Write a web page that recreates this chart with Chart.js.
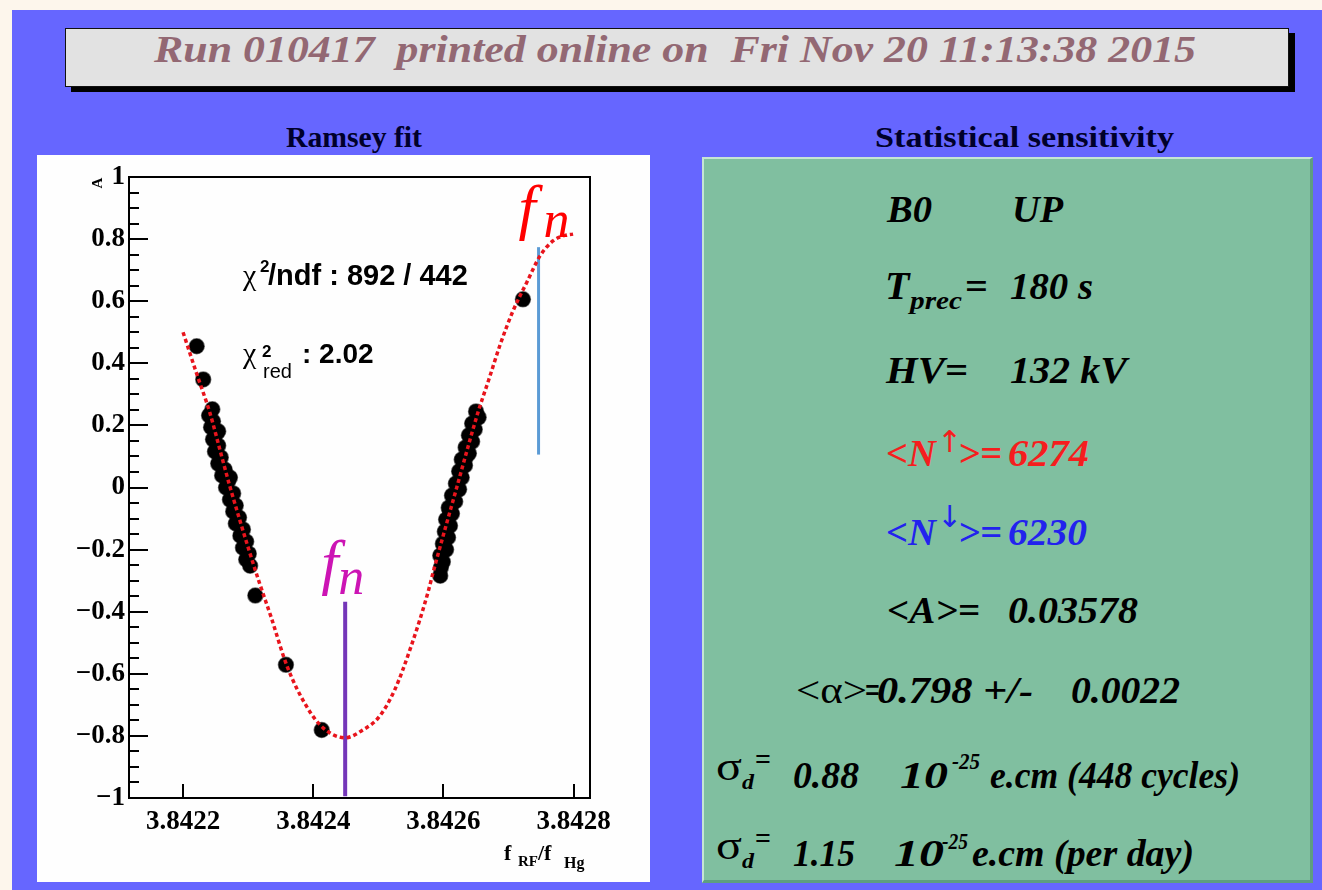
<!DOCTYPE html>
<html>
<head>
<meta charset="utf-8">
<script src="https://cdn.jsdelivr.net/npm/chart.js@4.4.0/dist/chart.umd.min.js"></script>
<style>
  html, body { margin: 0; padding: 0; }
  body { width: 1322px; height: 890px; background: #fdf6ec; position: relative; overflow: hidden; }
  #bg { position: absolute; left: 12px; top: 10px; right: 0; bottom: 0; background: #6666ff; }
  #titlebox { position: absolute; left: 65px; top: 28px; width: 1224px; height: 59px; box-sizing: border-box;
    background: #e2e2e2; border: 1px solid #111; box-shadow: 6px 5px 0 #000; }
  #plotpanel { position: absolute; left: 37px; top: 155px; width: 613px; height: 727px; background: #fefefe; }
  #greenpanel { position: absolute; left: 702px; top: 157px; width: 611px; height: 726px; box-sizing: border-box;
    background: #80bfa0; border-top: 2px solid #c6e4d4; border-left: 2px solid #c6e4d4;
    border-right: 3px solid #5e9e80; border-bottom: 3px solid #5e9e80; }
  .txt { position: absolute; white-space: pre; transform-origin: 0 50%; }
</style>
</head>
<body>
<div id="bg"></div>
<div id="titlebox"></div>
<div id="plotpanel"><canvas id="ramsey" width="613" height="727"></canvas></div>
<div id="greenpanel"></div>

<script>
// axis ticks
const xTickValues = [3.8422, 3.8424, 3.8426, 3.8428];
const xTickLabels = ['3.8422', '3.8424', '3.8426', '3.8428'];
const yTickValues = [-1, -0.8, -0.6, -0.4, -0.2, 0, 0.2, 0.4, 0.6, 0.8, 1];
const yTickLabels = ['\u22121', '\u22120.8', '\u22120.6', '\u22120.4', '\u22120.2', '0', '0.2', '0.4', '0.6', '0.8', '1'];

// fitted Ramsey curve
const fitX = [3.842200, 3.842221, 3.842241, 3.842260, 3.842272, 3.842301, 3.842317, 3.842335, 3.842360, 3.842390,
  3.842415, 3.842449, 3.842476, 3.842501, 3.842525, 3.842550, 3.842576, 3.842584, 3.842619, 3.842653,
  3.842670, 3.842687, 3.842707, 3.842728, 3.842748, 3.842768, 3.842783, 3.842799];
const fitY = [0.500, 0.366, 0.242, 0.095, 0.003, -0.200, -0.305, -0.416, -0.577, -0.706,
  -0.774, -0.806, -0.781, -0.739, -0.652, -0.513, -0.339, -0.274, -0.010, 0.242,
  0.350, 0.460, 0.570, 0.661, 0.745, 0.794, 0.810, 0.816];

// measured cycles, left cluster
const leftX = [3.842245, 3.842240, 3.842246, 3.842243, 3.842251, 3.842246, 3.842254, 3.842249, 3.842258, 3.842254,
  3.842264, 3.842260, 3.842269, 3.842266, 3.842277, 3.842272, 3.842281, 3.842277, 3.842286, 3.842281,
  3.842292, 3.842288, 3.842297, 3.842292, 3.842301, 3.842297, 3.842303, 3.842254, 3.842272];
const leftY = [0.252, 0.232, 0.213, 0.194, 0.174, 0.155, 0.135, 0.116, 0.097, 0.077,
  0.058, 0.039, 0.019, 0.000, -0.019, -0.039, -0.058, -0.077, -0.097, -0.116,
  -0.135, -0.155, -0.174, -0.194, -0.213, -0.232, -0.252, 0.181, 0.032];

// measured cycles, right cluster
const rightX = [3.842650, 3.842654, 3.842644, 3.842648, 3.842639, 3.842644, 3.842634, 3.842639, 3.842628, 3.842633,
  3.842624, 3.842628, 3.842619, 3.842624, 3.842613, 3.842618, 3.842608, 3.842613, 3.842604, 3.842610,
  3.842602, 3.842607, 3.842599, 3.842604, 3.842595, 3.842599, 3.842596, 3.842595, 3.842634, 3.842610];
const rightY = [0.245, 0.226, 0.206, 0.187, 0.168, 0.148, 0.129, 0.110, 0.090, 0.071,
  0.052, 0.032, 0.013, -0.006, -0.026, -0.045, -0.065, -0.084, -0.103, -0.123,
  -0.142, -0.161, -0.181, -0.200, -0.219, -0.239, -0.258, -0.284, 0.097, -0.077];

// isolated cycles
const loneX = [3.842221, 3.842231, 3.842311, 3.842358, 3.842413, 3.842722];
const loneY = [0.455, 0.348, -0.348, -0.571, -0.781, 0.606];

// f_n markers
const fnLowX = 3.842449;
const fnLowY = [-0.994, -0.368];
const fnHighX = 3.842746;
const fnHighY = [0.106, 0.774];

const xy = (xs, ys) => xs.map((v, i) => ({ x: v, y: ys[i] }));
const cycles = [...xy(leftX, leftY), ...xy(rightX, rightY), ...xy(loneX, loneY)];

const decor = {
  id: 'decor',
  afterDraw(chart) {
    const { ctx, chartArea: a, scales: { x, y } } = chart;
    ctx.save();
    ctx.strokeStyle = '#000';
    ctx.lineWidth = 2;
    ctx.strokeRect(a.left, a.top, a.right - a.left, a.bottom - a.top);

    // inward ticks, ROOT style
    ctx.beginPath();
    for (let i = 0; i <= 40; i++) {
      const py = Math.round(y.getPixelForValue(-1 + i * 0.05));
      ctx.moveTo(a.left, py);
      ctx.lineTo(a.left + (i % 4 === 0 ? 19 : 10), py);
    }
    xTickValues.forEach(v => {
      const px = Math.round(x.getPixelForValue(v));
      ctx.moveTo(px, a.bottom);
      ctx.lineTo(px, a.bottom - 14);
    });
    ctx.stroke();

    ctx.fillStyle = '#000';
    ctx.textBaseline = 'alphabetic';
    ctx.textAlign = 'left';

    // fit statistics
    const L = a.left + 114, B1 = a.top + 108, B2 = a.top + 186;
    ctx.font = '30px "Liberation Serif"';
    ctx.fillText('\u03c7', L, B1);
    ctx.fillText('\u03c7', L, B2);
    ctx.font = 'bold 17px "Liberation Sans"';
    ctx.fillText('2', L + 17, B1 - 13);
    ctx.fillText('2', L + 19, B2 - 6);
    ctx.font = 'bold 29px "Liberation Sans"';
    ctx.fillText('/ndf : 892 / 442', L + 25, B1);
    ctx.font = 'bold 28px "Liberation Sans"';
    ctx.fillText(': 2.02', L + 59, B2);
    ctx.font = '20px "Liberation Sans"';
    ctx.fillText('red', L + 20, B2 + 15);

    // axis titles
    ctx.font = 'bold 22px "Liberation Serif"';
    ctx.fillText('f', a.right - 86, a.bottom + 62);
    ctx.fillText('/f', a.right - 52, a.bottom + 62);
    ctx.font = 'bold 15px "Liberation Serif"';
    ctx.fillText('RF', a.right - 72, a.bottom + 68);
    ctx.font = 'bold 16px "Liberation Serif"';
    ctx.fillText('Hg', a.right - 26, a.bottom + 70);
    ctx.save();
    ctx.translate(a.left - 31, a.top + 6);
    ctx.rotate(-Math.PI / 2);
    ctx.font = 'bold 15px "Liberation Serif"';
    ctx.textAlign = 'center';
    ctx.textBaseline = 'middle';
    ctx.fillText('A', 0, 0);
    ctx.restore();

    // f_n labels above the marker lines
    const hx = x.getPixelForValue(fnHighX), hy = y.getPixelForValue(fnHighY[1]);
    ctx.fillStyle = '#ff0000';
    ctx.font = 'italic 62px "Liberation Serif"';
    ctx.fillText('f', hx - 20, hy - 19);
    ctx.font = 'italic 52px "Liberation Serif"';
    ctx.fillText('n', hx + 5, hy - 10);
    const lx = x.getPixelForValue(fnLowX), ly = y.getPixelForValue(fnLowY[1]);
    ctx.fillStyle = '#cc14b4';
    ctx.font = 'italic 62px "Liberation Serif"';
    ctx.fillText('f', lx - 24, ly - 19);
    ctx.font = 'italic 52px "Liberation Serif"';
    ctx.fillText('n', lx - 7, ly - 8);
    ctx.restore();
  }
};

new Chart(document.getElementById('ramsey'), {
  type: 'scatter',
  data: {
    datasets: [
      {
        label: 'fit',
        data: xy(fitX, fitY),
        showLine: true,
        borderColor: '#e8141c',
        borderWidth: 3.5,
        borderDash: [4, 3],
        cubicInterpolationMode: 'monotone',
        pointRadius: 0,
        order: 0
      },
      {
        label: 'fn high',
        data: [{ x: fnHighX, y: fnHighY[0] }, { x: fnHighX, y: fnHighY[1] }],
        showLine: true,
        borderColor: '#5b9bd5',
        borderWidth: 3,
        pointRadius: 0,
        order: 1
      },
      {
        label: 'fn low',
        data: [{ x: fnLowX, y: fnLowY[0] }, { x: fnLowX, y: fnLowY[1] }],
        showLine: true,
        borderColor: '#7436b8',
        borderWidth: 4,
        pointRadius: 0,
        order: 1
      },
      {
        label: 'cycles',
        data: cycles,
        backgroundColor: '#000',
        borderColor: 'rgba(0,0,0,0.55)',
        borderWidth: 1.5,
        pointRadius: 7.5,
        order: 2
      }
    ]
  },
  options: {
    responsive: false,
    animation: false,
    devicePixelRatio: 1,
    layout: { padding: { left: 0, right: 60, top: 22, bottom: 0 } },
    plugins: { legend: { display: false }, tooltip: { enabled: false } },
    scales: {
      x: {
        type: 'linear',
        min: 3.842117,
        max: 3.842825,
        grid: { display: false, drawTicks: false },
        border: { display: false },
        afterBuildTicks: s => { s.ticks = xTickValues.map(v => ({ value: v })); },
        afterFit: s => { s.height = 84; },
        ticks: {
          autoSkip: false,
          maxRotation: 0,
          padding: 8,
          color: '#000',
          font: { family: '"Liberation Serif"', size: 27, weight: 'bold' },
          callback: (v, i) => xTickLabels[i]
        }
      },
      y: {
        type: 'linear',
        min: -1,
        max: 1,
        grid: { display: false, drawTicks: false },
        border: { display: false },
        afterBuildTicks: s => { s.ticks = yTickValues.map(v => ({ value: v })); },
        afterFit: s => { s.width = 92; },
        ticks: {
          autoSkip: false,
          padding: 4,
          color: '#000',
          font: { family: '"Liberation Serif"', size: 27, weight: 'bold' },
          callback: (v, i) => yTickLabels[i]
        }
      }
    }
  },
  plugins: [decor]
});

// page text: [text, left, baseline, font, colour, width]
const BI = 'italic bold 38px "Liberation Serif"';
const red = '#f51e1e', blue = '#2222ee';
const pageText = [
  ['Run 010417  printed online on  Fri Nov 20 11:13:38 2015', 154, 62, 'italic bold 37px "Liberation Serif"', '#936873', 1042],
  ['Ramsey fit', 286, 147, 'bold 29px "Liberation Serif"', '#00002a', 136],
  ['Statistical sensitivity', 875, 147, 'bold 29px "Liberation Serif"', '#00002a', 299],
  ['B0', 887, 222, BI, '#000', 45],
  ['UP', 1012, 222, BI, '#000', 51],
  ['T', 885, 299, 'italic bold 40px "Liberation Serif"', '#000', 0],
  ['prec', 910, 310, 'italic bold 26px "Liberation Serif"', '#000', 52],
  ['=', 965, 299, 'bold 38px "Liberation Serif"', '#000', 23],
  ['180 s', 1010, 299, BI, '#000', 83],
  ['HV=', 886, 383, BI, '#000', 82],
  ['132 kV', 1010, 383, BI, '#000', 117],
  ['<N', 886, 466, BI, red, 50],
  ['\u2191', 937, 452, '30px "DejaVu Sans"', red, 0],
  ['>=', 958, 466, BI, red, 44],
  ['6274', 1008, 466, BI, red, 81],
  ['<N', 886, 545, BI, blue, 50],
  ['\u2193', 937, 527, '30px "DejaVu Sans"', blue, 0],
  ['>=', 958, 545, BI, blue, 44],
  ['6230', 1008, 545, BI, blue, 79],
  ['<A>=', 887, 623, BI, '#000', 93],
  ['0.03578', 1008, 623, BI, '#000', 130],
  ['<\u03b1>', 796, 703, '38px "Liberation Serif"', '#000', 71],
  ['=', 865, 703, 'bold 38px "Liberation Serif"', '#000', 15],
  ['0.798 +/-', 877, 703, BI, '#000', 156],
  ['0.0022', 1071, 703, BI, '#000', 109],
  ['\u03c3', 716, 780, '40px "Liberation Serif"', '#000', 26],
  ['d', 742, 789, 'italic bold 20px "Liberation Serif"', '#000', 12],
  ['=', 755, 769, 'bold 30px "Liberation Serif"', '#000', 16],
  ['0.88', 793, 788, BI, '#000', 66],
  ['10', 900, 788, BI, '#000', 48],
  ['-25', 952, 769, 'italic bold 24px "Liberation Serif"', '#000', 28],
  ['e.cm (448 cycles)', 990, 788, BI, '#000', 250],
  ['\u03c3', 716, 859, '40px "Liberation Serif"', '#000', 26],
  ['d', 742, 868, 'italic bold 20px "Liberation Serif"', '#000', 12],
  ['=', 755, 848, 'bold 30px "Liberation Serif"', '#000', 16],
  ['1.15', 793, 866, BI, '#000', 62],
  ['10', 894, 866, BI, '#000', 50],
  ['-25', 942, 849, 'italic bold 24px "Liberation Serif"', '#000', 26],
  ['e.cm (per day)', 972, 866, BI, '#000', 222]
];

pageText.forEach(([text, left, base, font, color, w]) => {
  const el = document.createElement('div');
  el.className = 'txt';
  el.textContent = text;
  el.style.font = font;
  el.style.lineHeight = '1';
  el.style.color = color;
  const size = parseFloat(font.match(/([\d.]+)px/)[1]);
  el.style.left = left + 'px';
  el.style.top = (base - 0.8375 * size) + 'px';
  document.body.appendChild(el);
  if (w) {
    const cw = el.getBoundingClientRect().width;
    el.style.transform = `scaleX(${w / cw})`;
  }
});
</script>
</body>
</html>
